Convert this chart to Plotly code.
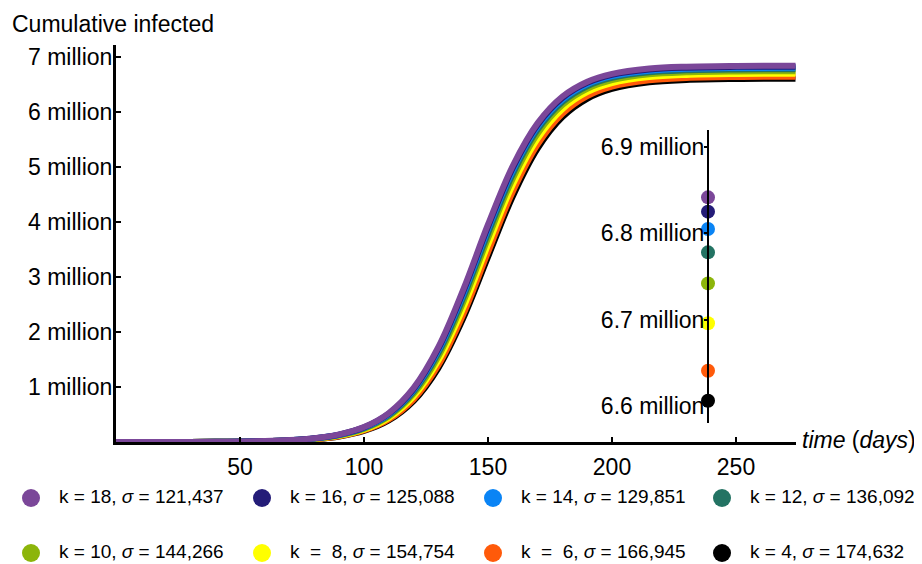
import plotly.graph_objects as go

# ---------------- data (values in millions) ----------------
days = [0, 20, 40, 60, 70, 80, 90, 100, 110, 120, 130, 140, 150, 160, 170,
        180, 190, 200, 215, 230, 250, 274]

k18 = [0.00026, 0.00105, 0.00424, 0.01717, 0.0345, 0.0691, 0.1378, 0.2718, 0.5263, 0.983,
       1.728, 2.770, 3.955, 5.022, 5.798, 6.281, 6.551, 6.694, 6.790, 6.8236, 6.8374, 6.8412]
k16 = [0.00025, 0.00102, 0.00414, 0.01678, 0.03369, 0.06752, 0.1346, 0.2658, 0.5149, 0.9632,
       1.697, 2.7287, 3.9105, 4.9814, 5.7653, 6.254, 6.5292, 6.6748, 6.7717, 6.8063, 6.8204, 6.8241]
k14 = [0.00025, 0.00100, 0.00405, 0.01638, 0.0329, 0.06594, 0.1315, 0.2596, 0.5035, 0.9431,
       1.6654, 2.6864, 3.8641, 4.9387, 5.7296, 6.2246, 6.5041, 6.6521, 6.7507, 6.7859, 6.8003, 6.8041]
k12 = [0.00024, 0.00096, 0.00389, 0.01576, 0.03164, 0.06344, 0.1266, 0.2501, 0.4855, 0.9114,
       1.6153, 2.6194, 3.7904, 4.8713, 5.6748, 6.1812, 6.4681, 6.6204, 6.722, 6.7583, 6.7731, 6.7771]
k10 = [0.00023, 0.00092, 0.00371, 0.01503, 0.03019, 0.06053, 0.1208, 0.2389, 0.4644, 0.8741,
       1.556, 2.5386, 3.7003, 4.7877, 5.6053, 6.1252, 6.4211, 6.5787, 6.684, 6.7216, 6.737, 6.7411]
k8 = [0.00021, 0.00086, 0.00349, 0.01411, 0.02836, 0.05687, 0.1136, 0.2248, 0.4378, 0.8267,
      1.4798, 2.4339, 3.5821, 4.677, 5.5138, 6.0515, 6.3598, 6.5247, 6.6351, 6.6745, 6.6907, 6.695]
k6 = [0.00020, 0.00080, 0.00325, 0.01314, 0.02641, 0.05298, 0.1058, 0.2097, 0.4092, 0.7755,
      1.3966, 2.3176, 3.4479, 4.549, 5.4062, 5.9646, 6.287, 6.4603, 6.5767, 6.6183, 6.6354, 6.64]
k4 = [0.00019, 0.00076, 0.0031, 0.01254, 0.02519, 0.05056, 0.101, 0.2003, 0.3914, 0.7434,
      1.344, 2.2431, 3.3608, 4.465, 5.3352, 5.9072, 6.2397, 6.4188, 6.5393, 6.5825, 6.6002, 6.6049]

series_values = [k18, k16, k14, k12, k10, k8, k6, k4]
series_k = [18, 16, 14, 12, 10, 8, 6, 4]
series_sigma = ["121,437", "125,088", "129,851", "136,092",
                "144,266", "154,754", "166,945", "174,632"]
series_colors = ["#7B4799", "#241C78", "#0A84F5", "#237363",
                 "#8CB50A", "#FFFF00", "#FF5A0A", "#000000"]

# inset: final cumulative values (millions) at day 240
inset_day = 240
inset_values = [6.8417, 6.8251, 6.805, 6.778, 6.742, 6.6958, 6.6409, 6.6061]

y_tick_vals = [1, 2, 3, 4, 5, 6, 7]
y_tick_text = ["1 million", "2 million", "3 million", "4 million",
               "5 million", "6 million", "7 million"]
x_tick_vals = [50, 100, 150, 200, 250]
inset_tick_vals = [6.6, 6.7, 6.8, 6.9]
inset_tick_text = ["6.6 million", "6.7 million", "6.8 million", "6.9 million"]

FONT = "Liberation Sans, Arial, Helvetica, sans-serif"
NB = "\u00a0"

def label(k, s):
    if k in (8, 6):
        head = "k" + NB + " =" + NB + " " + str(k)
    else:
        head = "k = " + str(k)
    return head + ", <i>σ</i> = " + s

# ---------------- layout geometry ----------------
# page body has an 8px margin, so the figure is drawn 8px smaller/shifted
OFF = 8
W, H = 922 - OFF, 564 - OFF
# plot area in target-picture pixels
PL, PR, PT, PB = 116, 796, 45, 442
PW, PH = PR - PL, PB - PT

def px_x(p):
    return (p - PL) / PW

def px_y(p):
    return (PB - p) / PH

legend_col_x = [31, 262, 493, 722]   # symbol centres
legend_row_y = [498, 553]
legend_text_dx = 26
legend_symbol_r = 9

fig = go.Figure()

# main curves: draw black first, purple last (on top)
for vals, col in reversed(list(zip(series_values, series_colors))):
    fig.add_trace(go.Scatter(x=days, y=vals, mode="lines",
                             line=dict(color=col, width=6, shape="spline"),
                             showlegend=False, hoverinfo="skip"))

# inset markers
fig.add_trace(go.Scatter(x=[inset_day] * len(inset_values), y=inset_values,
                         mode="markers", xaxis="x2", yaxis="y2",
                         marker=dict(color=series_colors, size=14),
                         showlegend=False, hoverinfo="skip"))

# manual legend (two rows of four)
annotations, shapes = [], []
for i, (k, s, col) in enumerate(zip(series_k, series_sigma, series_colors)):
    cx = legend_col_x[i % 4]
    cy = legend_row_y[i // 4]
    shapes.append(dict(type="circle", xref="paper", yref="paper",
                       xsizemode="pixel", ysizemode="pixel",
                       xanchor=px_x(cx), yanchor=px_y(cy),
                       x0=-legend_symbol_r, x1=legend_symbol_r,
                       y0=-legend_symbol_r, y1=legend_symbol_r,
                       fillcolor=col, line=dict(width=0)))
    annotations.append(dict(text=label(k, s), xref="paper", yref="paper",
                            x=px_x(cx + legend_text_dx), y=px_y(cy - 2),
                            xanchor="left", yanchor="middle", showarrow=False,
                            font=dict(size=19)))

annotations += [
    dict(text="Cumulative infected", xref="paper", yref="paper",
         x=px_x(10), y=px_y(24), xanchor="left", yanchor="middle",
         showarrow=False, font=dict(size=23)),
    dict(text="<i>time</i> (<i>days</i>)", xref="paper", yref="paper",
         x=px_x(800), y=px_y(440), xanchor="left", yanchor="middle",
         showarrow=False, font=dict(size=23)),
]

fig.update_layout(
    width=W, height=H, autosize=False,
    margin=dict(l=PL - OFF, r=922 - PR, t=PT - OFF, b=564 - PB, autoexpand=False),
    paper_bgcolor="white", plot_bgcolor="white", showlegend=False,
    font=dict(family=FONT, color="black", size=23),
    xaxis=dict(range=[0, 274.2], tickvals=x_tick_vals, ticks="inside", ticklen=5,
               tickwidth=1.5, tickcolor="black", showline=True, linewidth=3,
               linecolor="black", showgrid=False, zeroline=False,
               tickfont=dict(size=23), automargin=False, ticklabelstandoff=2),
    yaxis=dict(range=[0, 7.218], tickvals=y_tick_vals, ticktext=y_tick_text,
               ticks="inside", ticklen=5, tickwidth=1.5, tickcolor="black",
               showline=True, linewidth=3, linecolor="black", showgrid=False,
               zeroline=False, tickfont=dict(size=23), automargin=False,
               ticklabelstandoff=-4),
    xaxis2=dict(domain=[px_x(698), px_x(718)], range=[230, 250], visible=False,
                anchor="y2"),
    yaxis2=dict(domain=[px_y(423), px_y(130)], range=[6.5803, 6.9197], anchor="free",
                position=px_x(708), tickvals=inset_tick_vals, ticktext=inset_tick_text,
                ticks="outside", ticklen=3, tickwidth=1.5, tickcolor="black",
                showline=True, linewidth=2, linecolor="black", showgrid=False,
                zeroline=False, tickfont=dict(size=23), automargin=False,
                ticklabelstandoff=-5),
    shapes=shapes,
    annotations=annotations,
)

fig.write_html("out.html")
